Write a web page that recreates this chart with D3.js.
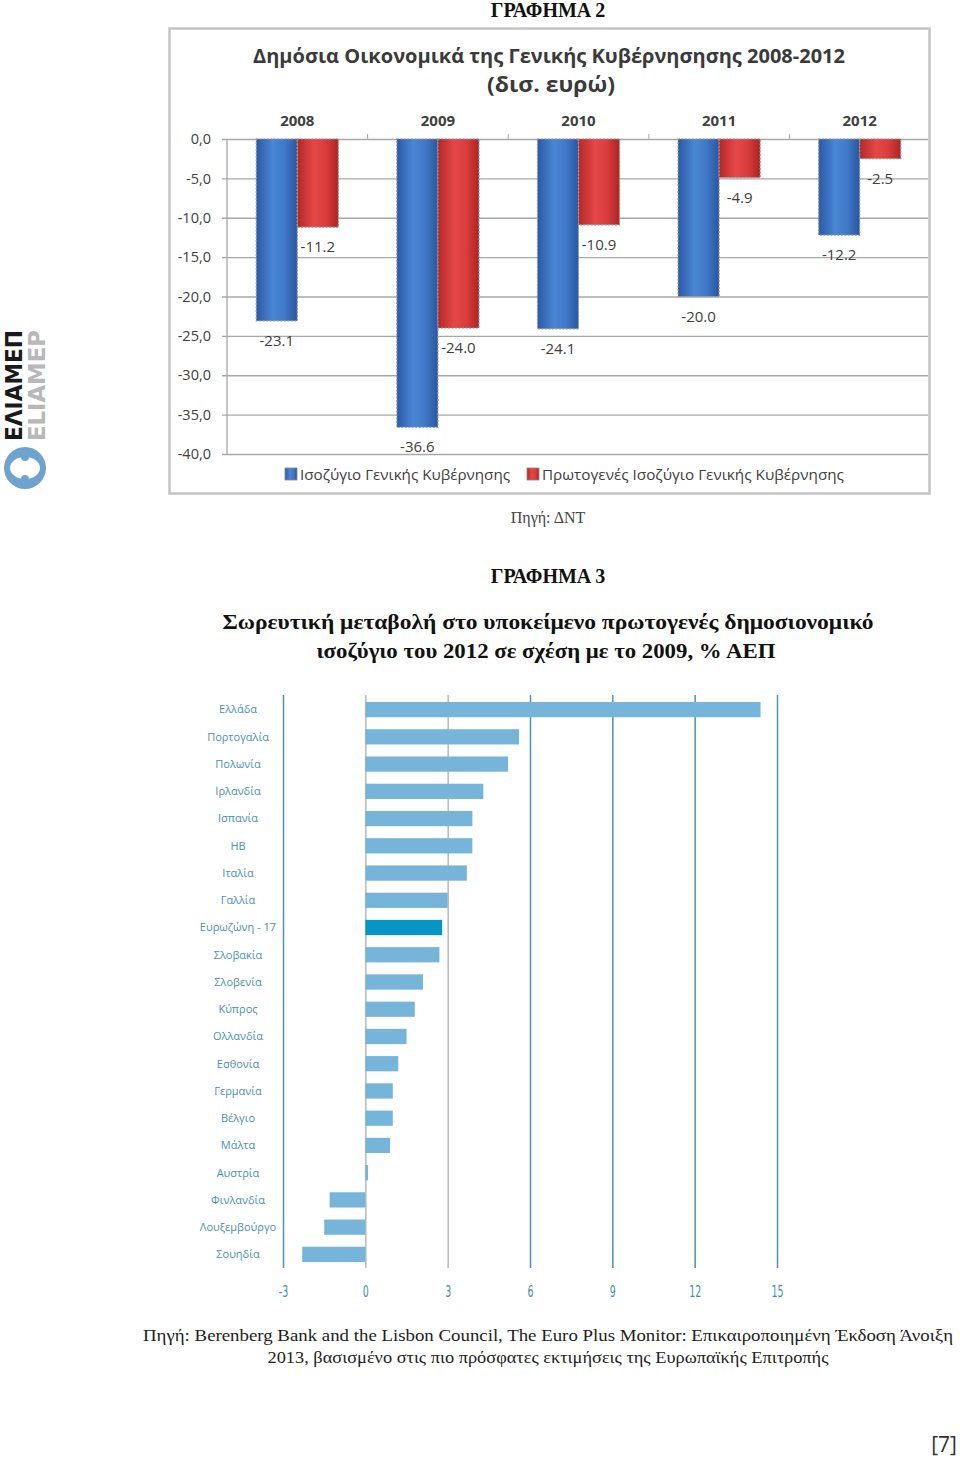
<!DOCTYPE html>
<html><head><meta charset="utf-8">
<script src="https://cdn.jsdelivr.net/npm/d3@7/dist/d3.min.js"></script>
<style>
body{margin:0;background:#fff;}
svg{display:block;}
</style></head>
<body>
<svg id="page" width="960" height="1458"></svg>
<script>
// ---------- DATA ----------
const years = ["2008","2009","2010","2011","2012"];
const generalBalance = [-23.1,-36.6,-24.1,-20.0,-12.2];
const primaryBalance = [-11.2,-24.0,-10.9,-4.9,-2.5];
const seriesNames = ["Ισοζύγιο Γενικής Κυβέρνησης","Πρωτογενές Ισοζύγιο Γενικής Κυβέρνησης"];
const yTicks = [0,-5,-10,-15,-20,-25,-30,-35,-40];

const countries = ["Ελλάδα","Πορτογαλία","Πολωνία","Ιρλανδία","Ισπανία","ΗΒ","Ιταλία","Γαλλία","Ευρωζώνη - 17","Σλοβακία","Σλοβενία","Κύπρος","Ολλανδία","Εσθονία","Γερμανία","Βέλγιο","Μάλτα","Αυστρία","Φινλανδία","Λουξεμβούργο","Σουηδία"];
const changeValues = [14.4,5.6,5.2,4.3,3.9,3.9,3.7,3.0,2.8,2.7,2.1,1.8,1.5,1.2,1.0,1.0,0.9,0.1,-1.3,-1.5,-2.3];
const xTicks = [-3,0,3,6,9,12,15];

// ---------- SETUP ----------
const svg = d3.select("#page");
const loc = d3.formatLocale({decimal:",",thousands:".",grouping:[3],currency:["","€"],minus:"-"});
const locDot = d3.formatLocale({decimal:".",thousands:",",grouping:[3],currency:["$",""],minus:"-"});
const serif = "'Liberation Serif','Times New Roman',serif";
const sans = "'Open Sans','Noto Sans',sans-serif";

// page headings
svg.append("text").attr("x",548).attr("y",17).attr("text-anchor","middle")
  .attr("font-family",serif).attr("font-weight","bold").attr("font-size",20).attr("fill","#111")
  .text("ΓΡΑΦΗΜΑ 2");

// ---------- CHART 1 ----------
const defs = svg.append("defs");
function grad(id, stops){
  const g = defs.append("linearGradient").attr("id",id).attr("x1","0").attr("x2","1").attr("y1","0").attr("y2","0");
  stops.forEach(s=>g.append("stop").attr("offset",s[0]).attr("stop-color",s[1]));
}
grad("gBlue",[["0%","#2a59a6"],["40%","#4a86d3"],["70%","#3f78c6"],["100%","#2a56a0"]]);
grad("gRed",[["0%","#b52727"],["40%","#e54747"],["70%","#d83c3c"],["100%","#ad2424"]]);

const c1 = svg.append("g");
c1.append("rect").attr("x",169.5).attr("y",28.5).attr("width",760).attr("height",465)
  .attr("fill","#fff").attr("stroke","#c4c4c4").attr("stroke-width",2.5);

c1.append("text").attr("x",549).attr("y",63).attr("text-anchor","middle")
  .attr("font-family",sans).attr("font-weight","bold").attr("font-size",20).attr("fill","#3a3a3a")
  .attr("textLength",592).attr("lengthAdjust","spacingAndGlyphs")
  .text("Δημόσια Οικονομικά της Γενικής Κυβέρνησησης 2008-2012");
c1.append("text").attr("x",551).attr("y",92).attr("text-anchor","middle")
  .attr("font-family",sans).attr("font-weight","bold").attr("font-size",21).attr("fill","#3a3a3a")
  .attr("textLength",128).attr("lengthAdjust","spacingAndGlyphs")
  .text("(δισ. ευρώ)");

const y1 = d3.scaleLinear().domain([0,-40]).range([139,454]);
const x0 = d3.scaleBand().domain(years).range([227,930]);
const bw = x0.bandwidth();
const x1 = d3.scaleBand().domain([0,1]).range([bw*0.208, bw*0.792]);

// gridlines + y axis labels
const yAxis = d3.axisLeft(y1).tickValues(yTicks).tickFormat(loc.format(".1f"))
  .tickSize(-(928-227)).tickPadding(16);
const gy = c1.append("g").attr("transform","translate(227,0)").call(yAxis);
gy.select(".domain").remove();
gy.selectAll(".tick line").attr("stroke","#a8a8a8").attr("stroke-width",1.3).attr("x1",-5);
gy.selectAll(".tick text").attr("font-family",sans).attr("font-size",14.5).attr("fill","#404040");
c1.append("line").attr("x1",227).attr("x2",227).attr("y1",y1(0)).attr("y2",y1(-40))
  .attr("stroke","#a8a8a8").attr("stroke-width",1.3);
// small category ticks at zero line
c1.selectAll(".ctick").data(years.slice(1)).join("line")
  .attr("x1",d=>x0(d)).attr("x2",d=>x0(d)).attr("y1",y1(0)-5).attr("y2",y1(0))
  .attr("stroke","#a8a8a8");

// year labels
c1.selectAll(".yr").data(years).join("text")
  .attr("x",d=>x0(d)+bw/2).attr("y",126).attr("text-anchor","middle")
  .attr("font-family",sans).attr("font-weight","bold").attr("font-size",15).attr("fill","#404040")
  .text(d=>d);

const series = [generalBalance, primaryBalance];
const fills = ["url(#gBlue)","url(#gRed)"];
const fmt1 = locDot.format(".1f");
series.forEach((vals,si)=>{
  const g = c1.append("g");
  g.selectAll("rect").data(vals).join("rect")
    .attr("x",(d,i)=>x0(years[i])+x1(si)).attr("width",x1.bandwidth())
    .attr("y",y1(0)).attr("height",d=>y1(d)-y1(0))
    .attr("fill",fills[si]).attr("stroke","#9a9a9a").attr("stroke-width",1.2).attr("stroke-dasharray","2,1.5");
  g.selectAll("text").data(vals).join("text")
    .attr("x",(d,i)=>x0(years[i])+x1(si)+x1.bandwidth()/2).attr("y",d=>y1(d)+25)
    .attr("text-anchor","middle").attr("font-family",sans).attr("font-size",15).attr("fill","#404040")
    .text(d=>fmt1(d));
});

// legend
const legX = [285,527], legW=[210,302];
seriesNames.forEach((n,i)=>{
  c1.append("rect").attr("x",legX[i]).attr("y",468).attr("width",12).attr("height",12)
    .attr("fill",fills[i]).attr("stroke","#8a8a8a").attr("stroke-width",0.8);
  c1.append("text").attr("x",legX[i]+15).attr("y",480).attr("font-family",sans).attr("font-size",15)
    .attr("fill","#404040").attr("textLength",legW[i]).attr("lengthAdjust","spacingAndGlyphs").text(n);
});

svg.append("text").attr("x",548).attr("y",523).attr("text-anchor","middle")
  .attr("font-family",serif).attr("font-size",16).attr("fill","#444").text("Πηγή: ΔΝΤ");

// ---------- CHART 2 ----------
svg.append("text").attr("x",548).attr("y",583).attr("text-anchor","middle")
  .attr("font-family",serif).attr("font-weight","bold").attr("font-size",20).attr("fill","#111")
  .text("ΓΡΑΦΗΜΑ 3");
svg.append("text").attr("x",548).attr("y",629).attr("text-anchor","middle")
  .attr("font-family",serif).attr("font-weight","bold").attr("font-size",20).attr("fill","#111")
  .attr("textLength",651).attr("lengthAdjust","spacingAndGlyphs")
  .text("Σωρευτική μεταβολή στο υποκείμενο πρωτογενές δημοσιονομικό");
svg.append("text").attr("x",546).attr("y",658).attr("text-anchor","middle")
  .attr("font-family",serif).attr("font-weight","bold").attr("font-size",20).attr("fill","#111")
  .attr("textLength",459).attr("lengthAdjust","spacingAndGlyphs")
  .text("ισοζύγιο του 2012 σε σχέση με το 2009, % ΑΕΠ");

const c2 = svg.append("g");
const x2 = d3.scaleLinear().domain([-3,15]).range([283,777]);
const y2 = d3.scaleBand().domain(countries).range([696,1268]).paddingInner(0.44).paddingOuter(0.22);

const xAxis = d3.axisBottom(x2).tickValues(xTicks).tickFormat(locDot.format("d"))
  .tickSize(-(1268-695)).tickPadding(16);
const gx = c2.append("g").attr("transform","translate(0,1268)").call(xAxis);
gx.select(".domain").remove();
gx.selectAll(".tick line").attr("stroke",d=>(d===0||d===3)?"#b4bcc0":"#4f93ad").attr("stroke-width",1.5);
gx.selectAll(".tick text").attr("font-family","'Liberation Sans Narrow','DejaVu Sans Condensed',sans-serif")
  .attr("font-size",15).attr("fill","#3f8fae").attr("transform","scale(0.7,1.1)");

c2.selectAll(".bar").data(changeValues).join("rect")
  .attr("x",d=>x2(Math.min(0,d))).attr("width",d=>Math.abs(x2(d)-x2(0)))
  .attr("y",(d,i)=>y2(countries[i])).attr("height",y2.bandwidth())
  .attr("fill",(d,i)=>countries[i]==="Ευρωζώνη - 17"?"#0795c6":"#76b5d9");

c2.selectAll(".lab").data(countries).join("text")
  .attr("x",238).attr("y",d=>y2(d)+y2.bandwidth()/2).attr("dy","0.35em").attr("text-anchor","middle")
  .attr("font-family",sans).attr("font-size",11).attr("fill","#4a90b8").text(d=>d);

// source
svg.append("text").attr("x",548).attr("y",1341).attr("text-anchor","middle")
  .attr("font-family",serif).attr("font-size",17).attr("fill","#222")
  .attr("textLength",810).attr("lengthAdjust","spacingAndGlyphs")
  .text("Πηγή: Berenberg Bank and the Lisbon Council, The Euro Plus Monitor: Επικαιροποιημένη Έκδοση Άνοιξη");
svg.append("text").attr("x",548).attr("y",1363).attr("text-anchor","middle")
  .attr("font-family",serif).attr("font-size",17).attr("fill","#222")
  .attr("textLength",561).attr("lengthAdjust","spacingAndGlyphs")
  .text("2013, βασισμένο στις πιο πρόσφατες εκτιμήσεις της Ευρωπαϊκής Επιτροπής");

// page number
svg.append("text").attr("x",944).attr("y",1452).attr("text-anchor","middle")
  .attr("font-family",sans).attr("font-size",21).attr("fill","#333").text("[7]");

// logo
const lg = svg.append("g");
lg.append("text").attr("transform","translate(22,441) rotate(-90)")
  .attr("font-family","'DejaVu Sans',sans-serif").attr("font-weight","bold").attr("font-size",23)
  .attr("fill","#1a1a1a").attr("textLength",111).attr("lengthAdjust","spacingAndGlyphs").text("ΕΛΙΑΜΕΠ");
lg.append("text").attr("transform","translate(45,441) rotate(-90)")
  .attr("font-family","'DejaVu Sans',sans-serif").attr("font-weight","bold").attr("font-size",23)
  .attr("fill","#b8b8b8").attr("textLength",111).attr("lengthAdjust","spacingAndGlyphs").text("ELIAMEP");
lg.append("circle").attr("cx",25).attr("cy",468).attr("r",21).attr("fill","#6fa3cf");
lg.append("ellipse").attr("cx",25).attr("cy",468).attr("rx",15).attr("ry",11).attr("fill","#fff");
lg.append("ellipse").attr("cx",25).attr("cy",457).attr("rx",4).attr("ry",4).attr("fill","#6fa3cf");
lg.append("ellipse").attr("cx",25).attr("cy",479).attr("rx",4).attr("ry",4).attr("fill","#6fa3cf");
</script>
</body></html>
